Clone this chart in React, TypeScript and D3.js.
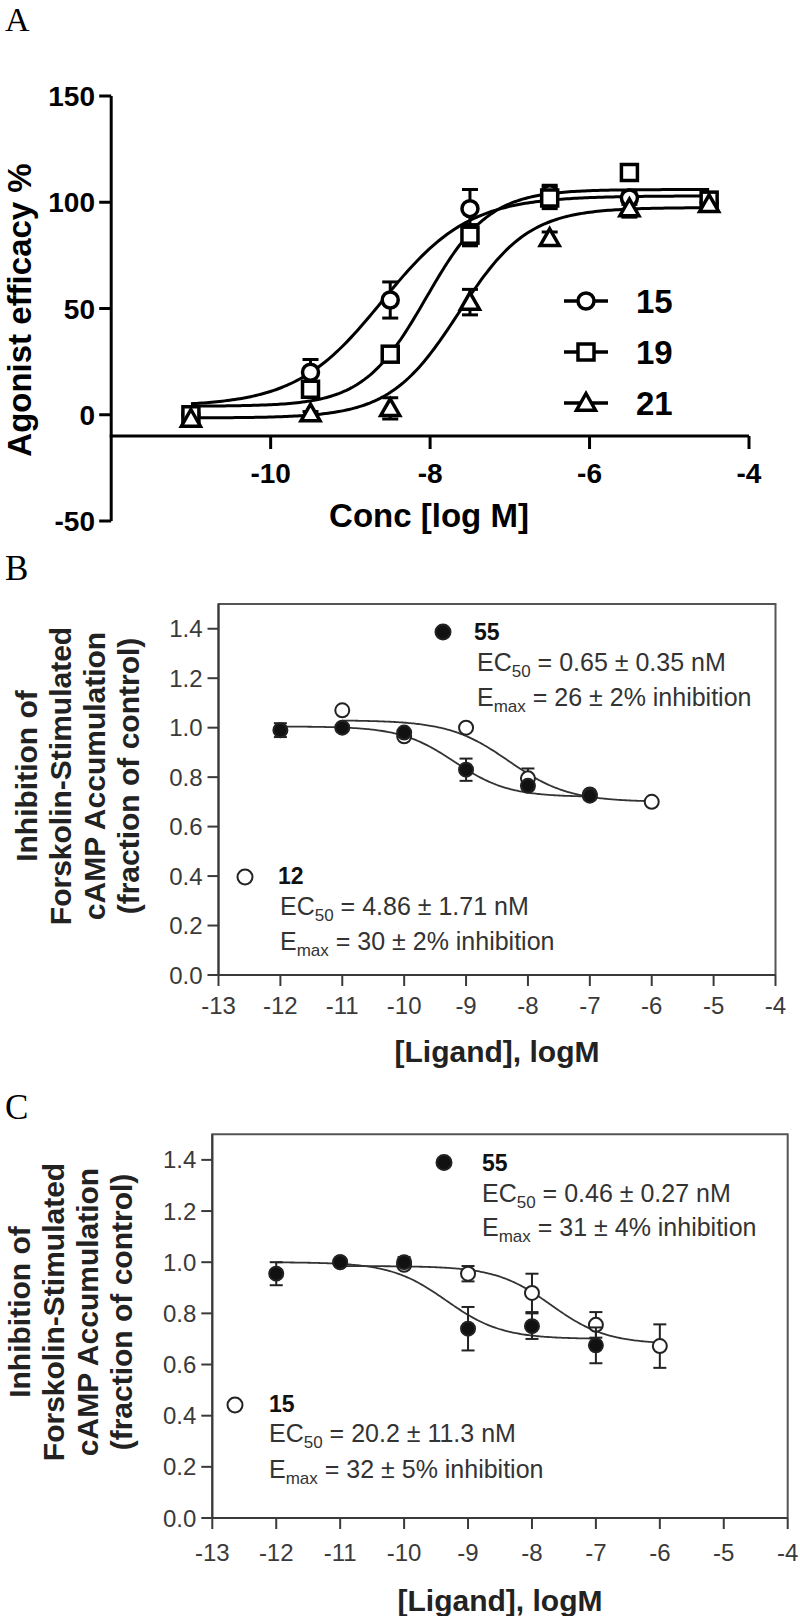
import React from 'react';
import * as d3 from 'd3';

const SANS = "'Liberation Sans', Arial, Helvetica, sans-serif";
const SERIF = "'Liberation Serif', 'Times New Roman', serif";

// ---------------- Panel A data ----------------
const A_CONC = [-11, -9.5, -8.5, -7.5, -6.5, -5.5, -4.5];
const A_S15 = [0, 20, 54, 97, 104, 102, 100];
const A_S15_ERR = [2, 6, 8.5, 9, 4, 3, 2];
const A_S19 = [0, 12, 28.5, 84.5, 102, 114, 101];
const A_S19_ERR = [3, 3, 3, 5, 5, 3, 2];
const A_S21 = [-2, 0.5, 3, 53, 83, 97, 99];
const A_S21_ERR = [2, 1, 5, 6, 3, 4, 2];
const A_FIT_15 = { start: 4, end: 103, logEC50: -8.6, hill: 0.8 };
const A_FIT_19 = { start: 4, end: 106, logEC50: -8.05, hill: 1.1 };
const A_FIT_21 = { start: -1.5, end: 97.5, logEC50: -7.64, hill: 1.0 };
const A_X_TICKS = [-10, -8, -6, -4];
const A_Y_TICKS = [150, 100, 50, 0, -50];
const A_LEGEND = ['15', '19', '21'];

// ---------------- Panel B data ----------------
const B_CONC_55 = [-12, -11, -10, -9, -8, -7];
const B_VAL_55 = [0.99, 1.0, 0.98, 0.83, 0.765, 0.725];
const B_ERR_55 = [0.028, 0.01, 0.01, 0.045, 0.015, 0.015];
const B_CONC_12 = [-11, -10, -9, -8, -7, -6];
const B_VAL_12 = [1.07, 0.965, 1.0, 0.795, 0.73, 0.7];
const B_ERR_12 = [0.01, 0.01, 0.01, 0.04, 0.01, 0.01];
const B_FIT_55 = { start: 1.005, end: 0.72, logEC50: -9.19, hill: 1.0 };
const B_FIT_12 = { start: 1.03, end: 0.7, logEC50: -8.31, hill: 0.9 };
const B_TEXT_55 = ['55', '0.65 ± 0.35 nM', '26 ± 2% inhibition'];
const B_TEXT_12 = ['12', '4.86 ± 1.71 nM', '30 ± 2% inhibition'];

// ---------------- Panel C data ----------------
const C_CONC_55 = [-12, -11, -10, -9, -8, -7];
const C_VAL_55 = [0.955, 1.0, 1.0, 0.74, 0.75, 0.675];
const C_ERR_55 = [0.045, 0.01, 0.02, 0.085, 0.05, 0.07];
const C_CONC_15 = [-11, -10, -9, -8, -7, -6];
const C_VAL_15 = [1.0, 0.99, 0.955, 0.88, 0.755, 0.672];
const C_ERR_15 = [0.01, 0.01, 0.03, 0.075, 0.05, 0.085];
const C_FIT_55 = { start: 1.0, end: 0.7, logEC50: -9.34, hill: 1.0 };
const C_FIT_15 = { start: 0.985, end: 0.68, logEC50: -7.7, hill: 1.0 };
const C_TEXT_55 = ['55', '0.46 ± 0.27 nM', '31 ± 4% inhibition'];
const C_TEXT_15 = ['15', '20.2 ± 11.3 nM', '32 ± 5% inhibition'];

const BC_X_TICKS = [-13, -12, -11, -10, -9, -8, -7, -6, -5, -4];
const BC_Y_TICKS = [0, 0.2, 0.4, 0.6, 0.8, 1.0, 1.2, 1.4];
const BC_Y_LABEL = ['Inhibition of', 'Forskolin-Stimulated', 'cAMP Accumulation', '(fraction of control)'];

type Fit = { start: number; end: number; logEC50: number; hill: number };
const model = (p: Fit, x: number) =>
  p.start + (p.end - p.start) / (1 + Math.pow(10, (p.logEC50 - x) * p.hill));

function fitPath(p: Fit, x0: number, x1: number, xs: any, ys: any) {
  const pts = d3.range(0, 201).map((i) => x0 + ((x1 - x0) * i) / 200);
  return d3
    .line<number>()
    .x((d) => xs(d))
    .y((d) => ys(model(p, d)))(pts) as string;
}

function MarkerA({ shape, cx, cy }: { shape: string; cx: number; cy: number }) {
  const s = 8;
  const common = { fill: '#fff', stroke: '#000', strokeWidth: 3.5 };
  if (shape === 'circle') return <circle cx={cx} cy={cy} r={s} {...common} />;
  if (shape === 'square')
    return <rect x={cx - s} y={cy - s} width={2 * s} height={2 * s} {...common} />;
  const h = 9.5;
  return (
    <path
      d={`M${cx},${cy - h} L${cx + h},${cy + h * 0.75} L${cx - h},${cy + h * 0.75} Z`}
      {...common}
      strokeLinejoin="miter"
    />
  );
}

function PanelA() {
  const x = d3.scaleLinear().domain([-12, -4]).range([111.2, 749]);
  const y = d3.scaleLinear().domain([-50, 150]).range([521, 96]);
  const series = [
    { shape: 'circle', vals: A_S15, err: A_S15_ERR, fit: A_FIT_15 },
    { shape: 'square', vals: A_S19, err: A_S19_ERR, fit: A_FIT_19 },
    { shape: 'triangle', vals: A_S21, err: A_S21_ERR, fit: A_FIT_21 },
  ];
  const legendY = [301, 352, 403];
  const axisY = y(-10);
  return (
    <g fontFamily={SANS}>
      <text x={5} y={31} fontFamily={SERIF} fontSize={34}>A</text>
      {/* axes */}
      <line x1={x(-12)} x2={x(-12)} y1={y(150)} y2={y(-50)} stroke="#000" strokeWidth={3} />
      <line x1={x(-12) - 1.5} x2={x(-4)} y1={axisY} y2={axisY} stroke="#000" strokeWidth={3} />
      {A_Y_TICKS.map((t) => (
        <g key={t}>
          <line x1={x(-12) - 12} x2={x(-12)} y1={y(t)} y2={y(t)} stroke="#000" strokeWidth={3} />
          <text x={95} y={y(t) + 10} textAnchor="end" fontSize={28} fontWeight="bold">{t}</text>
        </g>
      ))}
      {A_X_TICKS.map((t) => (
        <g key={t}>
          <line x1={x(t)} x2={x(t)} y1={axisY} y2={axisY + 13} stroke="#000" strokeWidth={3} />
          <text x={x(t)} y={483} textAnchor="middle" fontSize={28} fontWeight="bold">{t}</text>
        </g>
      ))}
      <text x={429} y={527} textAnchor="middle" fontSize={33} fontWeight="bold">Conc [log M]</text>
      <text
        transform={`translate(31,${310}) rotate(-90)`}
        textAnchor="middle"
        fontSize={33}
        fontWeight="bold"
      >
        Agonist efficacy %
      </text>
      {/* curves */}
      {series.map((s, i) => (
        <path key={i} d={fitPath(s.fit, -11, -4.5, x, y)} fill="none" stroke="#000" strokeWidth={3} />
      ))}
      {/* error bars */}
      {series.map((s, i) =>
        A_CONC.map((c, j) => {
          const yt = y(s.vals[j] + s.err[j]);
          const yb = y(s.vals[j] - s.err[j]);
          return (
            <g key={`e${i}-${j}`} stroke="#000" strokeWidth={3}>
              <line x1={x(c)} x2={x(c)} y1={yt} y2={yb} />
              <line x1={x(c) - 8} x2={x(c) + 8} y1={yt} y2={yt} />
              <line x1={x(c) - 8} x2={x(c) + 8} y1={yb} y2={yb} />
            </g>
          );
        })
      )}
      {/* markers */}
      {series.map((s, i) =>
        A_CONC.map((c, j) => <MarkerA key={`m${i}-${j}`} shape={s.shape} cx={x(c)} cy={y(s.vals[j])} />)
      )}
      {/* legend */}
      {series.map((s, i) => (
        <g key={`l${i}`}>
          <line x1={564} x2={608} y1={legendY[i]} y2={legendY[i]} stroke="#000" strokeWidth={3.5} />
          <MarkerA shape={s.shape} cx={586} cy={legendY[i]} />
          <text x={636} y={legendY[i] + 12} fontSize={33} fontWeight="bold">{A_LEGEND[i]}</text>
        </g>
      ))}
    </g>
  );
}

type Series = { conc: number[]; vals: number[]; err: number[]; fit: Fit; range: [number, number] };
type Leg = { cx: number; cy: number; tx: number; ty: number; lx: number; l1: number; l2: number; text: string[] };
type BCProps = {
  letter: string;
  letterY: number;
  x0: number;
  x1: number;
  yBottom: number;
  yTop: number;
  labelXs: number[];
  labelCY: number;
  tickLabelY: number;
  xLabelY: number;
  filled: Series;
  open: Series;
  legFilled: Leg;
  legOpen: Leg;
};

function Legend({ l, filled }: { l: Leg; filled: boolean }) {
  return (
    <g>
      <circle cx={l.cx} cy={l.cy} r={7.5} fill={filled ? '#111' : '#fff'} stroke="#222" strokeWidth={2} />
      <text x={l.tx} y={l.ty} fontSize={23} fontWeight="bold" fill="#111">{l.text[0]}</text>
      <text x={l.lx} y={l.l1} fontSize={25} fill="#333">
        EC<tspan fontSize={17} dy={6}>50</tspan>
        <tspan dy={-6}>{' = ' + l.text[1]}</tspan>
      </text>
      <text x={l.lx} y={l.l2} fontSize={25} fill="#333">
        E<tspan fontSize={17} dy={6}>max</tspan>
        <tspan dy={-6}>{' = ' + l.text[2]}</tspan>
      </text>
    </g>
  );
}

function PanelBC(p: BCProps) {
  const x = d3.scaleLinear().domain([-13, -4]).range([p.x0, p.x1]);
  const y = d3.scaleLinear().domain([0, 1.5]).range([p.yBottom, p.yTop]);
  const col = '#3a3a3a';
  const drawSeries = (s: Series, filled: boolean, key: string) => (
    <g key={key}>
      {s.conc.map((c, j) => {
        const yt = y(s.vals[j] + s.err[j]);
        const yb = y(s.vals[j] - s.err[j]);
        return (
          <g key={j} stroke="#222" strokeWidth={2}>
            <line x1={x(c)} x2={x(c)} y1={yt} y2={yb} />
            <line x1={x(c) - 6.5} x2={x(c) + 6.5} y1={yt} y2={yt} />
            <line x1={x(c) - 6.5} x2={x(c) + 6.5} y1={yb} y2={yb} />
          </g>
        );
      })}
      {s.conc.map((c, j) => (
        <circle
          key={'c' + j}
          cx={x(c)}
          cy={y(s.vals[j])}
          r={7}
          fill={filled ? '#111' : '#fff'}
          stroke="#222"
          strokeWidth={2}
        />
      ))}
    </g>
  );
  return (
    <g fontFamily={SANS}>
      <text x={5} y={p.letterY} fontFamily={SERIF} fontSize={35}>{p.letter}</text>
      {/* frame */}
      <path
        d={`M${p.x0},${p.yBottom} L${p.x0},${p.yTop} L${p.x1},${p.yTop} L${p.x1},${p.yBottom}`}
        fill="none"
        stroke="#555"
        strokeWidth={2}
      />
      <line x1={p.x0} x2={p.x1} y1={p.yBottom} y2={p.yBottom} stroke={col} strokeWidth={2} />
      <line x1={p.x0} x2={p.x0} y1={p.yBottom} y2={p.yTop} stroke={col} strokeWidth={2} />
      {BC_Y_TICKS.map((t) => (
        <g key={t}>
          <line x1={p.x0 - 11} x2={p.x0} y1={y(t)} y2={y(t)} stroke={col} strokeWidth={2} />
          <text x={p.x0 - 16} y={y(t) + 8.5} textAnchor="end" fontSize={24} fill={col}>
            {t.toFixed(1)}
          </text>
        </g>
      ))}
      {BC_X_TICKS.map((t) => (
        <g key={t}>
          <line x1={x(t)} x2={x(t)} y1={p.yBottom} y2={p.yBottom + 11} stroke={col} strokeWidth={2} />
          <text x={x(t)} y={p.tickLabelY} textAnchor="middle" fontSize={24} fill={col}>{t}</text>
        </g>
      ))}
      <text x={(p.x0 + p.x1) / 2} y={p.xLabelY} textAnchor="middle" fontSize={30} fontWeight="bold" fill="#222">
        [Ligand], logM
      </text>
      {BC_Y_LABEL.map((s, i) => (
        <text
          key={i}
          transform={`translate(${p.labelXs[i]},${p.labelCY}) rotate(-90)`}
          textAnchor="middle"
          fontSize={30}
          fontWeight="bold"
          fill="#222"
        >
          {s}
        </text>
      ))}
      {/* curves */}
      <path d={fitPath(p.open.fit, p.open.range[0], p.open.range[1], x, y)} fill="none" stroke="#333" strokeWidth={1.8} />
      <path d={fitPath(p.filled.fit, p.filled.range[0], p.filled.range[1], x, y)} fill="none" stroke="#333" strokeWidth={1.8} />
      {drawSeries(p.open, false, 'open')}
      {drawSeries(p.filled, true, 'filled')}
      <Legend l={p.legFilled} filled={true} />
      <Legend l={p.legOpen} filled={false} />
    </g>
  );
}

export default function App() {
  return (
    <svg
      width={800}
      height={1616}
      viewBox="0 0 800 1616"
      style={{ position: 'absolute', left: 0, top: 0, background: '#fff' }}
    >
      <rect x={0} y={0} width={800} height={1616} fill="#fff" />
      <PanelA />
      <PanelBC
        letter="B"
        letterY={580}
        x0={218.5}
        x1={775.5}
        yBottom={975}
        yTop={604}
        labelXs={[37, 71, 105, 139]}
        labelCY={776}
        tickLabelY={1014}
        xLabelY={1062}
        filled={{ conc: B_CONC_55, vals: B_VAL_55, err: B_ERR_55, fit: B_FIT_55, range: [-12, -7] }}
        open={{ conc: B_CONC_12, vals: B_VAL_12, err: B_ERR_12, fit: B_FIT_12, range: [-11, -6] }}
        legFilled={{ cx: 443, cy: 632, tx: 474, ty: 640, lx: 477, l1: 671, l2: 706, text: B_TEXT_55 }}
        legOpen={{ cx: 245, cy: 877, tx: 278, ty: 884, lx: 280, l1: 915, l2: 950, text: B_TEXT_12 }}
      />
      <PanelBC
        letter="C"
        letterY={1119}
        x0={212.3}
        x1={787.7}
        yBottom={1518}
        yTop={1134.3}
        labelXs={[30, 64, 98, 132]}
        labelCY={1312}
        tickLabelY={1561}
        xLabelY={1611}
        filled={{ conc: C_CONC_55, vals: C_VAL_55, err: C_ERR_55, fit: C_FIT_55, range: [-12, -7] }}
        open={{ conc: C_CONC_15, vals: C_VAL_15, err: C_ERR_15, fit: C_FIT_15, range: [-11, -6] }}
        legFilled={{ cx: 444, cy: 1162.5, tx: 482, ty: 1171, lx: 482, l1: 1202, l2: 1236, text: C_TEXT_55 }}
        legOpen={{ cx: 235, cy: 1405, tx: 269, ty: 1412, lx: 269, l1: 1442, l2: 1478, text: C_TEXT_15 }}
      />
    </svg>
  );
}
